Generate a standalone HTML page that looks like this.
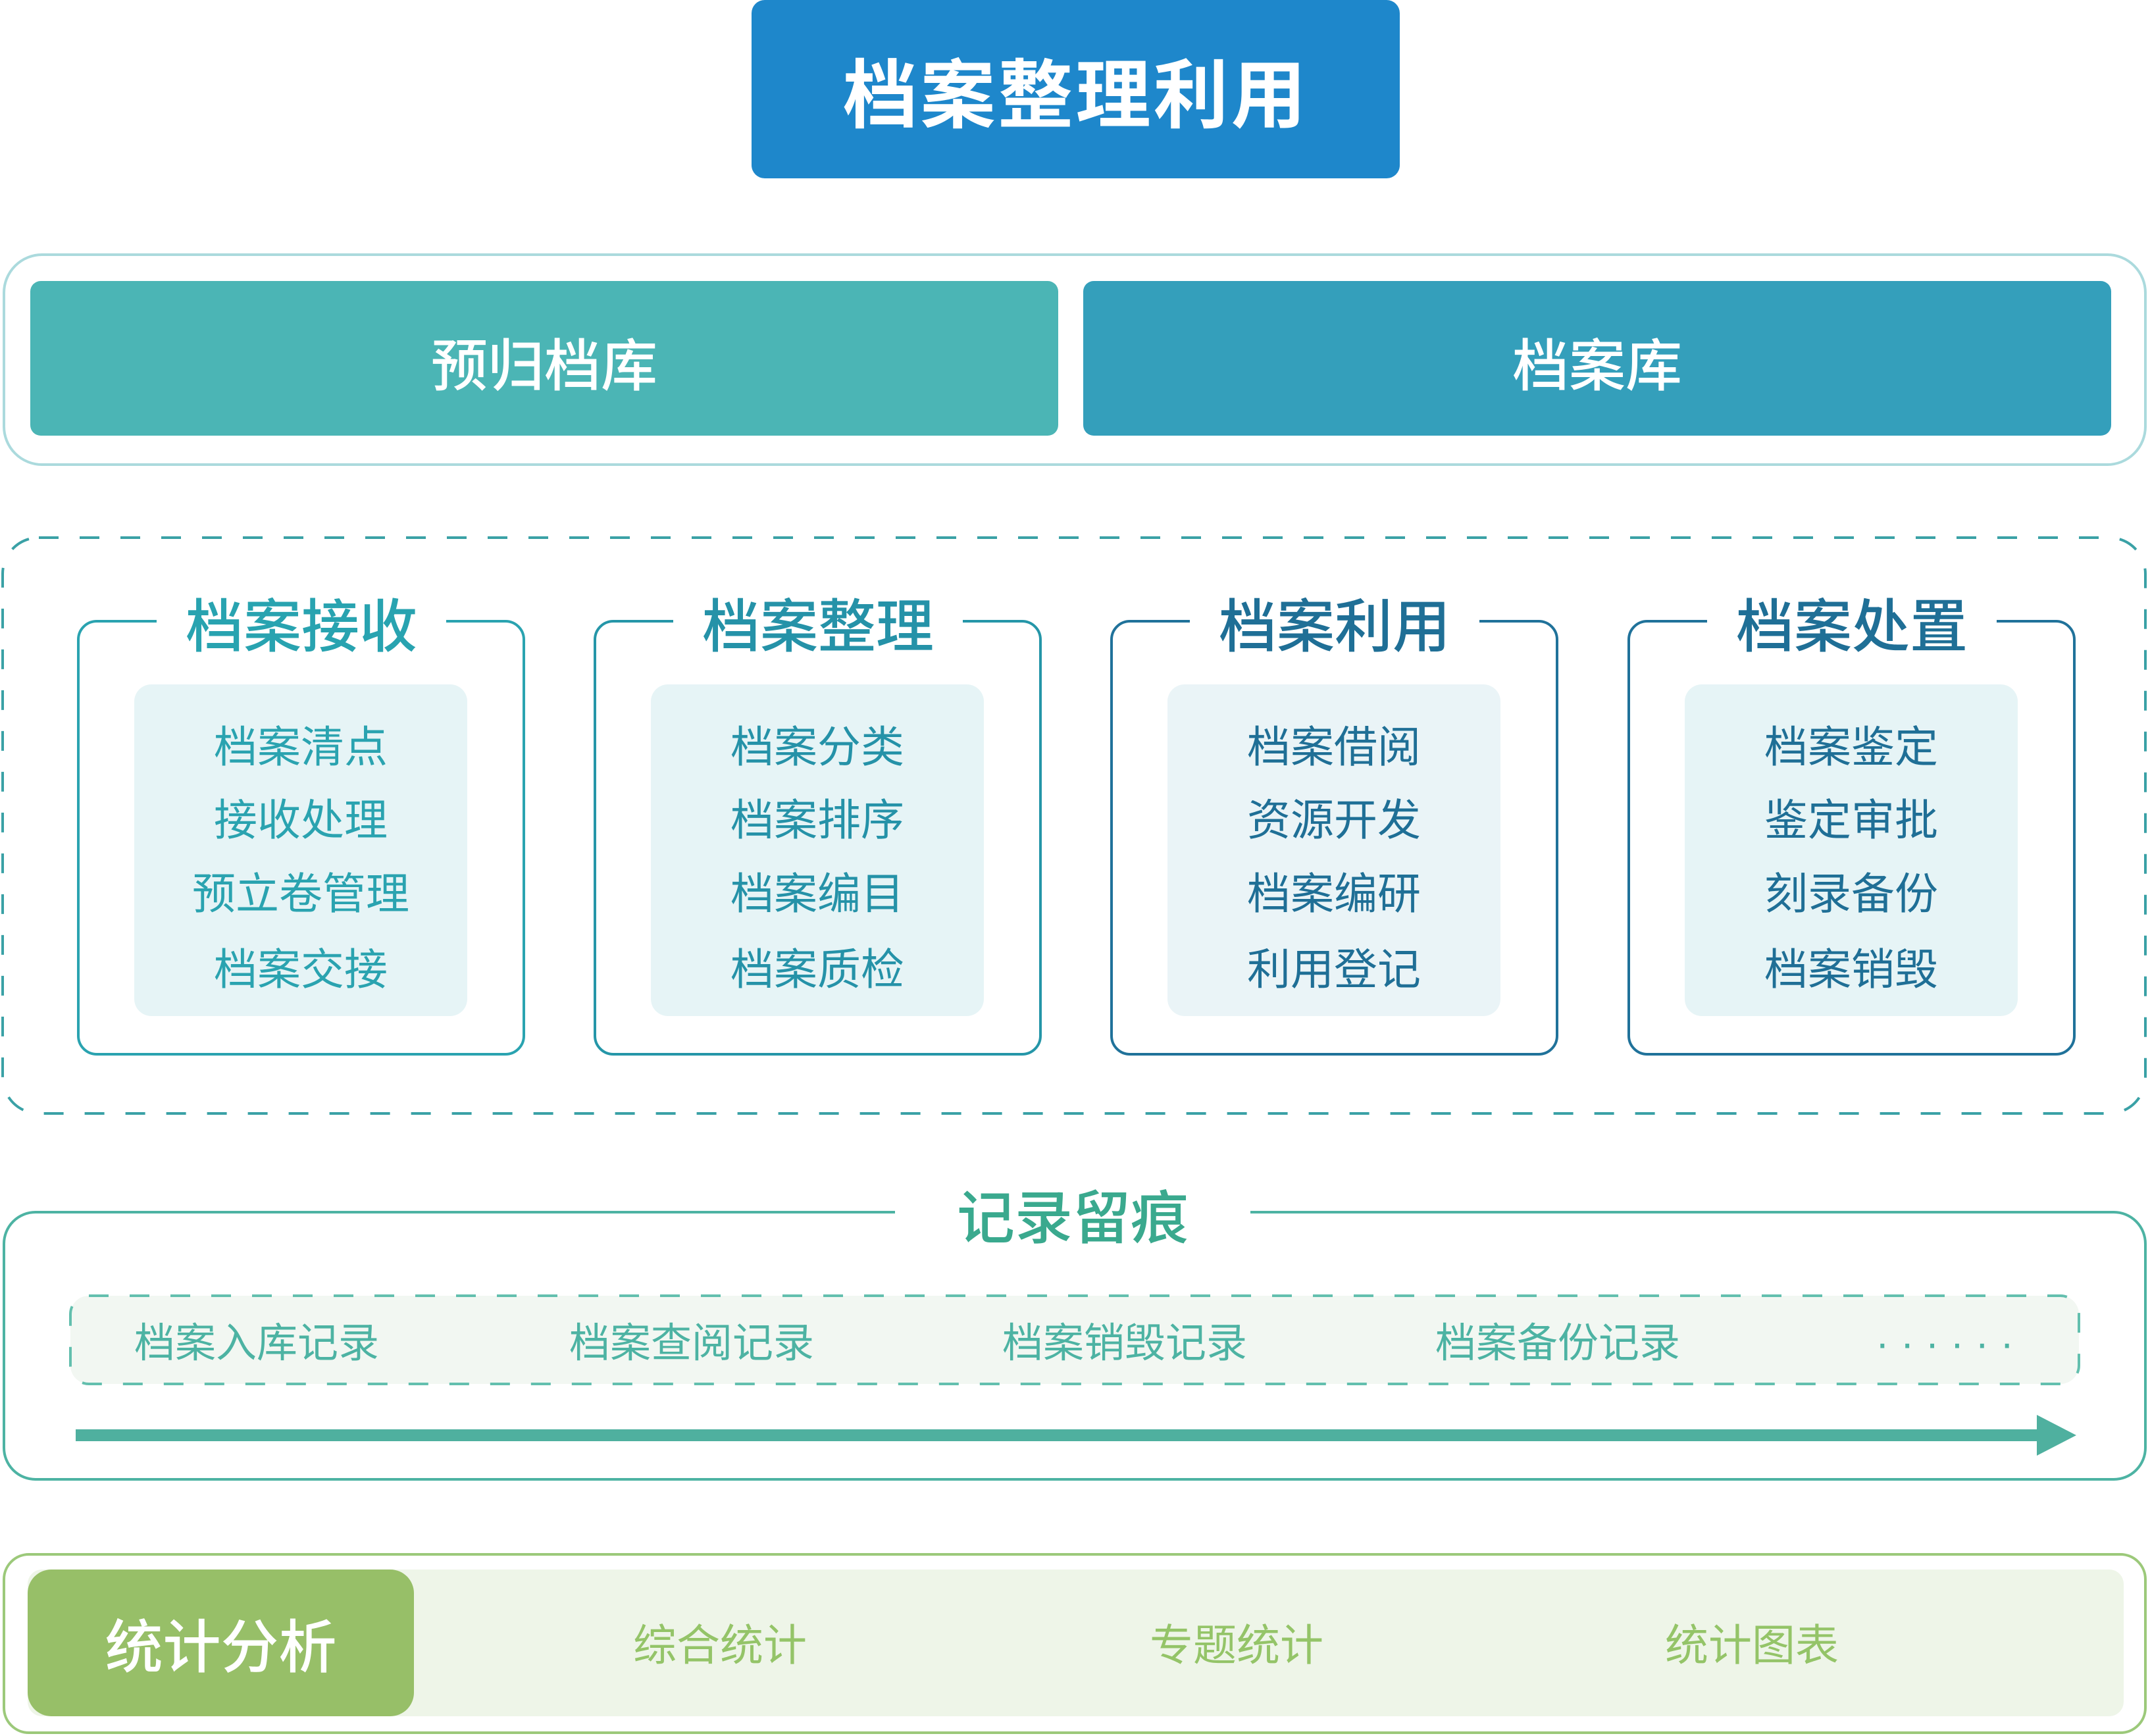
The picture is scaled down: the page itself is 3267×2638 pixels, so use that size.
<!DOCTYPE html>
<html><head><meta charset="utf-8">
<style>
*{margin:0;padding:0;box-sizing:border-box}
body{width:3267px;height:2638px;background:#fff;position:relative;overflow:hidden;font-family:"Liberation Sans","Noto Sans CJK SC",sans-serif}
.a{position:absolute}
.c{display:flex;align-items:center;justify-content:center;white-space:nowrap}
.card{position:absolute;top:942px;width:681px;height:662px;border:4px solid;border-radius:30px}
.ct{position:absolute;top:903px;height:100px;background:#fff;font-size:88px;font-weight:500;padding:0 44px;line-height:100px;transform:translateX(-50%)}
.inner{position:absolute;top:1040px;width:506px;height:504px;border-radius:26px}
.it{position:absolute;width:506px;text-align:center;font-size:66px;line-height:80px}
.rt{position:absolute;top:2002px;font-size:62px;color:#4db3a3;line-height:80px;white-space:nowrap}
.st{position:absolute;top:2455px;font-size:66px;color:#94c468;line-height:90px;transform:translateX(-50%);white-space:nowrap}
</style></head><body>

<div class="a c" style="left:1142px;top:0;width:985px;height:271px;background:#1e87cb;border-radius:20px;color:#fff;font-size:114px;font-weight:700;letter-spacing:4px">档案整理利用</div>

<div class="a" style="left:4px;top:385px;width:3258px;height:323px;border:4px solid #abdadd;border-radius:60px"></div>
<div class="a c" style="left:46px;top:427px;width:1562px;height:235px;background:#4bb5b5;border-radius:16px;color:#fff;font-size:86px;font-weight:500;padding-top:8px">预归档库</div>
<div class="a c" style="left:1646px;top:427px;width:1562px;height:235px;background:#349fbb;border-radius:16px;color:#fff;font-size:86px;font-weight:500;padding-top:8px">档案库</div>

<svg class="a" style="left:0;top:813px" width="3267" height="884"><rect x="4" y="4" width="3256" height="875" rx="55" fill="none" stroke="#3aa1a6" stroke-width="4" stroke-dasharray="30 32"/></svg>

<div class="card" style="left:117px;border-color:#2aa3b0"></div>
<div class="ct" style="left:458px;color:#28a3b0">档案接收</div>
<div class="inner" style="left:204px;background:#e6f4f6"></div>
<div class="it" style="left:204px;top:1095px;color:#2aa3b0">档案清点</div>
<div class="it" style="left:204px;top:1206px;color:#2aa3b0">接收处理</div>
<div class="it" style="left:204px;top:1318px;color:#2aa3b0">预立卷管理</div>
<div class="it" style="left:204px;top:1433px;color:#2aa3b0">档案交接</div>

<div class="card" style="left:902px;border-color:#2596a8"></div>
<div class="ct" style="left:1243px;color:#2592a8">档案整理</div>
<div class="inner" style="left:989px;background:#e6f4f6"></div>
<div class="it" style="left:989px;top:1095px;color:#2592a8">档案分类</div>
<div class="it" style="left:989px;top:1206px;color:#2592a8">档案排序</div>
<div class="it" style="left:989px;top:1318px;color:#2592a8">档案编目</div>
<div class="it" style="left:989px;top:1433px;color:#2592a8">档案质检</div>

<div class="card" style="left:1687px;border-color:#20729a"></div>
<div class="ct" style="left:2028px;color:#1f6f96">档案利用</div>
<div class="inner" style="left:1774px;background:#eaf4f7"></div>
<div class="it" style="left:1774px;top:1095px;color:#1f6f96">档案借阅</div>
<div class="it" style="left:1774px;top:1206px;color:#1f6f96">资源开发</div>
<div class="it" style="left:1774px;top:1318px;color:#1f6f96">档案编研</div>
<div class="it" style="left:1774px;top:1433px;color:#1f6f96">利用登记</div>

<div class="card" style="left:2473px;border-color:#20729a"></div>
<div class="ct" style="left:2814px;color:#1f6f96">档案处置</div>
<div class="inner" style="left:2560px;background:#e6f4f6"></div>
<div class="it" style="left:2560px;top:1095px;color:#1f6f96">档案鉴定</div>
<div class="it" style="left:2560px;top:1206px;color:#1f6f96">鉴定审批</div>
<div class="it" style="left:2560px;top:1318px;color:#1f6f96">刻录备份</div>
<div class="it" style="left:2560px;top:1433px;color:#1f6f96">档案销毁</div>

<div class="a" style="left:4px;top:1840px;width:3258px;height:410px;border:4px solid #4db3a3;border-radius:50px"></div>
<div class="a c" style="left:1360px;top:1794px;width:540px;height:100px;background:#fff;color:#3aa98e;font-size:88px;font-weight:500">记录留痕</div>
<svg class="a" style="left:104px;top:1966px" width="3060" height="142"><rect x="3" y="3" width="3052" height="134" rx="28" fill="#f2f7f2" stroke="#63bfae" stroke-width="4" stroke-dasharray="30 32"/></svg>
<div class="rt" style="left:204px">档案入库记录</div>
<div class="rt" style="left:865px">档案查阅记录</div>
<div class="rt" style="left:1523px">档案销毁记录</div>
<div class="rt" style="left:2181px">档案备份记录</div>
<div class="rt" style="left:2850px;letter-spacing:0px">· · · · · ·</div>
<svg class="a" style="left:110px;top:2140px" width="3050" height="80"><rect x="5" y="32" width="2990" height="18" fill="#4fb09f"/><polygon points="2985,10 3045,41 2985,72" fill="#4fb09f"/></svg>

<div class="a" style="left:4px;top:2360px;width:3258px;height:275px;border:4px solid #9cc97a;border-radius:40px"></div>
<div class="a" style="left:42px;top:2385px;width:3185px;height:223px;background:#eef5e8;border-radius:22px"></div>
<div class="a c" style="left:42px;top:2385px;width:587px;height:223px;background:#97bf68;border-radius:36px;color:#fff;font-size:88px;font-weight:500">统计分析</div>
<div class="st" style="left:1094px">综合统计</div>
<div class="st" style="left:1879px">专题统计</div>
<div class="st" style="left:2662px">统计图表</div>
</body></html>
